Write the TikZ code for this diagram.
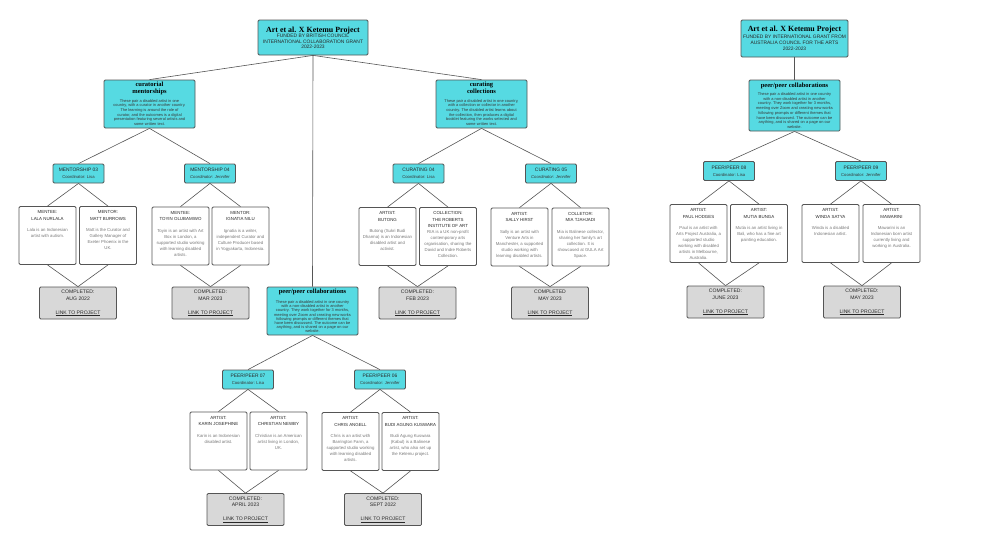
\documentclass[tikz,border=0pt]{standalone}
\usepackage{fontspec}
\setmainfont{Liberation Sans}
\newfontfamily\headserif{Liberation Serif}
\definecolor{cyanbox}{RGB}{86,218,226}
\definecolor{edgegray}{RGB}{85,85,85}
\definecolor{txtgray}{RGB}{120,120,120}
\definecolor{hdrgray}{RGB}{40,40,40}
\definecolor{secgray}{RGB}{55,55,55}
\definecolor{donegray}{RGB}{216,216,216}
\newcommand\normsp{\spaceskip=0pt\xspaceskip=0pt\relax}
\newcommand\mytitle{\headserif\bfseries\fontsize{7.9}{9}\selectfont\normsp\color{black}}
\newcommand\mysub{\fontsize{4.9}{5.3}\selectfont\normsp\color{hdrgray}}
\newcommand\mysubB{\fontsize{4.9}{6.2}\selectfont\normsp\color{hdrgray}}
\newcommand\myhead{\headserif\bfseries\fontsize{6.5}{6.2}\selectfont\normsp\color{black}}
\newcommand\mysecbody{\fontsize{3.95}{4.65}\selectfont\normsp\color{secgray}}
\newcommand\mysecbodyP{\fontsize{3.95}{4.15}\selectfont\normsp\color{secgray}}
\newcommand\mysecbodyR{\fontsize{3.95}{4.7}\selectfont\normsp\color{secgray}}
\newcommand\mycoordA{\fontsize{4.9}{6}\selectfont\normsp\color{hdrgray}}
\newcommand\mycoordB{\fontsize{4.2}{7.4}\selectfont\normsp\color{secgray}}
\newcommand\mypcontent[3][5.4pt]{\parbox[c][54pt][t]{56pt}{\centering\vspace*{2.1pt}{\fontsize{4.4}{6.6}\selectfont\normsp\color{hdrgray}#2\par}\vspace{#1}{\fontsize{4.3}{6}\selectfont\normsp\color{txtgray}#3\par}}}
\newcommand\mydone[1]{{\fontsize{5.1}{6.5}\selectfont\normsp\color{hdrgray}COMPLETED:\\#1\\[7.5pt]\underline{LINK TO PROJECT}\par}}
\newcommand\mydoneB[1]{{\fontsize{5.1}{6.5}\selectfont\normsp\color{hdrgray}COMPLETED\\#1\\[7.5pt]\underline{LINK TO PROJECT}\par}}
\tikzset{
  base/.style={draw=edgegray, line width=0.8pt, rounded corners=1.2pt, inner sep=0pt, align=flush center},
  titlebox/.style={base, fill=cyanbox, minimum width=110pt, minimum height=35pt, text width=108pt},
  sectbox/.style={base, fill=cyanbox, minimum width=91pt, minimum height=48pt, text width=89pt},
  coordbox/.style={base, fill=cyanbox, minimum width=51pt, minimum height=19pt, text width=50pt},
  personbox/.style={base, fill=white, minimum width=57pt, minimum height=58pt},
  donebox/.style={base, fill=donegray, minimum width=77pt, minimum height=32pt, text width=75pt},
  link/.style={draw=edgegray, line width=0.6pt},
}
\begin{document}
\begin{tikzpicture}[x=1pt,y=-1pt]
\useasboundingbox (0,0) rectangle (1000,546);

% ---------- titles ----------
\node[titlebox] (t1) at (313,37.5) {{\mytitle Art et al. X Ketemu Project\par}\vspace{0.5pt}{\mysub FUNDED BY BRITISH COUNCIL\\INTERNATIONAL COLLABORATION GRANT\\2022-2023\par}};
\node[titlebox, minimum width=107pt, minimum height=37pt, text width=107pt] (t2) at (794.5,38.5) {{\mytitle Art et al. X Ketemu Project\par}\vspace{0.5pt}{\mysubB FUNDED BY INTERNATIONAL GRANT FROM\\AUSTRALIA COUNCIL FOR THE ARTS\\2022-2023\par}};

% ---------- sections ----------
\node[sectbox] (s1) at (149.5,104) {{\myhead curatorial\\mentorships\par}\vspace{4.6pt}{\mysecbody These pair a disabled artist in one\\country, with a curator in another country.\\The learning is around the role of\\curator, and the outcomes is a digital\\presentation featuring several artists and\\some written text.\par}};
\node[sectbox] (s2) at (481.5,104) {{\myhead curating\\collections\par}\vspace{4.6pt}{\mysecbody These pair a disabled artist in one country,\\with a collection or collector in another\\country. The disabled artist learns about\\the collection, then produces a digital\\booklet featuring the works selected and\\some written text.\par}};
\node[sectbox] (s3) at (312.5,311) {{\myhead peer/peer collaborations\par}\vspace{4.5pt}{\mysecbodyP These pair a disabled artist in one country\\with a non-disabled artist in another\\country. They work together for 3 months,\\meeting over Zoom and creating new works\\following prompts or different themes that\\have been discussed. The outcome can be\\anything, and is shared on a page on our\\website.\par}};
\node[sectbox, minimum height=51pt] (s4) at (794.5,105.5) {{\myhead peer/peer collaborations\par}\vspace{3.8pt}{\mysecbodyR These pair a disabled artist in one country\\with a non-disabled artist in another\\country. They work together for 3 months,\\meeting over Zoom and creating new works\\following prompts or different themes that\\have been discussed. The outcome can be\\anything, and is shared on a page on our\\website.\par}};

% ---------- coordinator boxes ----------
\node[coordbox] (m3) at (78.5,173.5) {{\mycoordA MENTORSHIP 03\par}{\mycoordB Coordinator: Lisa\par}};
\node[coordbox] (m4) at (210,173.5) {{\mycoordA MENTORSHIP 04\par}{\mycoordB\itshape Coordinator: Jennifer\par}};
\node[coordbox] (c4) at (418.5,173.5) {{\mycoordA CURATING 04\par}{\mycoordB Coordinator: Lisa\par}};
\node[coordbox] (c5) at (551,173.5) {{\mycoordA CURATING 05\par}{\mycoordB\itshape Coordinator: Jennifer\par}};
\node[coordbox] (p7) at (248,379.5) {{\mycoordA PEER/PEER 07\par}{\mycoordB Coordinator: Lisa\par}};
\node[coordbox] (p6) at (380,379.5) {{\mycoordA PEER/PEER 06\par}{\mycoordB Coordinator: Jennifer\par}};
\node[coordbox] (p8) at (729,171) {{\mycoordA PEER/PEER 08\par}{\mycoordB Coordinator: Lisa\par}};
\node[coordbox] (p9) at (861,171) {{\mycoordA PEER/PEER 09\par}{\mycoordB Coordinator: Jennifer\par}};

% ---------- person boxes ----------
\node[personbox] (a1) at (47.5,235.5) {\mypcontent{MENTEE:\\LALA NURLALA}{Lala is an Indonesian\\artist with autism.}};
\node[personbox] (a2) at (108,235.5) {\mypcontent{MENTOR:\\MATT BURROWS}{Matt is the Curator and\\Gallery Manager of\\Exeter Phoenix in the\\UK.}};
\node[personbox] (b1) at (180.5,236) {\mypcontent{MENTEE:\\TOYIN OLUBAMIWO}{Toyin is an artist with Art\\Box in London, a\\supported studio working\\with learning disabled\\artists.}};
\node[personbox] (b2) at (240.5,236) {\mypcontent{MENTOR:\\IGNATIA NILU}{Ignatia is a writer,\\independent Curator and\\Culture Producer based\\in Yogyakarta, Indonesia.}};
\node[personbox] (c1) at (387.5,236.5) {\mypcontent{ARTIST:\\BUTONG}{Butong (Sukri Budi\\Dharma) is an Indonesian\\disabled artist and\\activist.}};
\node[personbox] (c2) at (448,236.5) {\mypcontent[0pt]{COLLECTION:\\THE ROBERTS\\INSTITUTE OF ART}{RIA is a UK non-profit\\contemporary arts\\organisation, sharing the\\David and Indre Roberts\\Collection.}};
\node[personbox] (d1) at (519.5,237) {\mypcontent{ARTIST:\\SALLY HIRST}{Sally is an artist with\\Venture Arts in\\Manchester, a supported\\studio working with\\learning disabled artists.}};
\node[personbox] (d2) at (580.5,237) {\mypcontent{COLLETOR:\\MIA TJAHJADI}{Mia is Balinese collector,\\sharing her family's art\\collection. It is\\showcased at GULA Art\\Space.}};
\node[personbox] (e1) at (218.5,441) {\mypcontent{ARTIST:\\KARIN JOSEPHINE}{Karin is an Indonesian\\disabled artist.}};
\node[personbox] (e2) at (278.5,441) {\mypcontent{ARTIST:\\CHRISTIAN NEWBY}{Christian is an American\\artist living in London,\\UK.}};
\node[personbox] (f1) at (350.5,441.5) {\mypcontent{ARTIST:\\CHRIS ANGELL}{Chris is an artist with\\Barrington Farm, a\\supported studio working\\with learning disabled\\artists.}};
\node[personbox] (f2) at (410.5,441.5) {\mypcontent{ARTIST:\\BUDI AGUNG KUSWARA}{Budi Agung Kuswara\\(Kabul) is a Balinese\\artist, who also set up\\the Ketemu project.}};
\node[personbox] (g1) at (698.5,233.5) {\mypcontent{ARTIST:\\PAUL HODGES}{Paul is an artist with\\Arts Project Australia, a\\supported studio\\working with disabled\\artists in Melbourne,\\Australia.}};
\node[personbox] (g2) at (759,233.5) {\mypcontent{ARTIST:\\MUTIA BUNGA}{Mutia is an artist living in\\Bali, who has a fine art\\painting education.}};
\node[personbox] (h1) at (830.5,233.5) {\mypcontent{ARTIST:\\WINDA SATYA}{Winda is a disabled\\Indonesian artist.}};
\node[personbox] (h2) at (891.5,233.5) {\mypcontent{ARTIST:\\MAWARINI}{Mawarini is an\\Indonesian born artist\\currently living and\\working in Australia.}};

% ---------- completed boxes ----------
\node[donebox] (k1) at (78,303) {\mydone{AUG 2022}};
\node[donebox] (k2) at (210.5,303) {\mydone{MAR 2023}};
\node[donebox] (k3) at (417.5,303) {\mydone{FEB 2023}};
\node[donebox] (k4) at (550,303) {\mydoneB{MAY 2023}};
\node[donebox] (k5) at (245.5,509.5) {\mydone{APRIL 2023}};
\node[donebox] (k6) at (383,509.5) {\mydone{SEPT 2022}};
\node[donebox] (k7) at (725.5,302) {\mydone{JUNE 2023}};
\node[donebox] (k8) at (862,302) {\mydone{MAY 2023}};

% ---------- connectors ----------
\draw[link] (t1.south) -- (s1.north);
\draw[link] (t1.south) -- (s2.north);
\draw[link] (t1.south) -- (s3.north);
\draw[link] (t2.south) -- (s4.north);
\foreach \s/\c in {s1/m3,s1/m4,s2/c4,s2/c5,s3/p7,s3/p6,s4/p8,s4/p9}
  \draw[link] (\s.south) -- (\c.north);
\foreach \c/\p in {m3/a1,m3/a2,m4/b1,m4/b2,c4/c1,c4/c2,c5/d1,c5/d2,p7/e1,p7/e2,p6/f1,p6/f2,p8/g1,p8/g2,p9/h1,p9/h2}
  \draw[link] (\c.south) -- (\p.north);
\foreach \p/\k in {a1/k1,a2/k1,b1/k2,b2/k2,c1/k3,c2/k3,d1/k4,d2/k4,e1/k5,e2/k5,f1/k6,f2/k6,g1/k7,g2/k7,h1/k8,h2/k8}
  \draw[link] (\p.south) -- (\k.north);
\end{tikzpicture}
\end{document}
